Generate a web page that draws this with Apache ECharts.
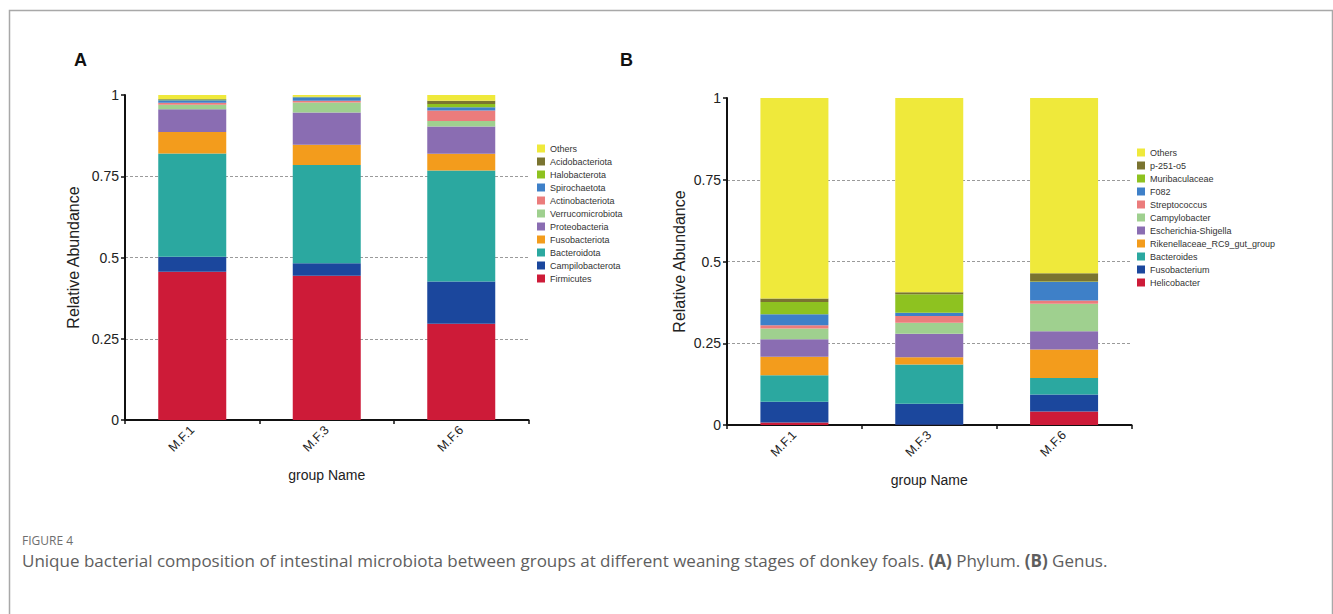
<!DOCTYPE html>
<html>
<head>
<meta charset="utf-8">
<script src="https://cdn.jsdelivr.net/npm/echarts@6/dist/echarts.min.js"></script>
<style>
  html, body { margin: 0; padding: 0; background: #fff; }
  #chart { width: 1333px; height: 614px; }
</style>
</head>
<body>
<div id="chart"></div>
<script>
// Sample groups (weaning stages)
const groups = ['M.F.1', 'M.F.3', 'M.F.6'];

// Phylum level, listed from the bottom of each stack to the top
const phylumNames = ['Firmicutes', 'Campilobacterota', 'Bacteroidota', 'Fusobacteriota', 'Proteobacteria',
  'Verrucomicrobiota', 'Actinobacteriota', 'Spirochaetota', 'Halobacterota', 'Acidobacteriota', 'Others'];
const phylumMF1 = [0.456, 0.046, 0.318, 0.066, 0.070, 0.014, 0.006, 0.008, 0.002, 0.002, 0.012];
const phylumMF3 = [0.444, 0.038, 0.303, 0.062, 0.099, 0.031, 0.005, 0.011, 0.001, 0.001, 0.005];
const phylumMF6 = [0.296, 0.130, 0.342, 0.051, 0.084, 0.017, 0.032, 0.010, 0.010, 0.010, 0.018];

// Genus level, listed from the bottom of each stack to the top
const genusNames = ['Helicobacter', 'Fusobacterium', 'Bacteroides', 'Rikenellaceae_RC9_gut_group',
  'Escherichia-Shigella', 'Campylobacter', 'Streptococcus', 'F082', 'Muribaculaceae', 'p-251-o5', 'Others'];
const genusMF1 = [0.008, 0.063, 0.081, 0.057, 0.053, 0.033, 0.010, 0.034, 0.037, 0.011, 0.613];
const genusMF3 = [0.001, 0.064, 0.120, 0.022, 0.072, 0.034, 0.020, 0.010, 0.057, 0.006, 0.594];
const genusMF6 = [0.041, 0.052, 0.051, 0.087, 0.056, 0.084, 0.010, 0.056, 0.002, 0.025, 0.536];

// Y axis ticks
const yMin = 0, yMax = 1, yStep = 0.25;

// Shared palette, bottom to top
const palette = ['#CD1B38', '#1B479D', '#2BA8A0', '#F39C1C', '#8A6DB2', '#9FD08F',
  '#EB7C7C', '#3E80C8', '#8EC220', '#7A7430', '#EFE93B'];

const FONT = 'Liberation Sans, Arial, sans-serif';
const CAPTION_FONT = '"Open Sans", "Noto Sans", sans-serif';
const AXIS_COLOR = '#111';

function buildSeries(names, cols, idx) {
  return names.map((name, i) => ({
    type: 'bar',
    name: name,
    stack: 'stack' + idx,
    xAxisIndex: idx,
    yAxisIndex: idx,
    barWidth: 68,
    itemStyle: { color: palette[i] },
    emphasis: { disabled: true },
    data: cols.map(c => c[i])
  }));
}

function makeXAxis(gi) {
  return {
    type: 'category',
    gridIndex: gi,
    data: groups,
    name: 'group Name',
    nameLocation: 'middle',
    nameGap: 48,
    nameTextStyle: { fontFamily: FONT, fontSize: 14, color: '#222' },
    axisLine: { lineStyle: { color: AXIS_COLOR, width: 2 } },
    axisTick: { show: true, length: 4, alignWithLabel: false, lineStyle: { color: AXIS_COLOR, width: 1.5 } },
    axisLabel: { rotate: 45, margin: 8, fontFamily: FONT, fontSize: 12.5, color: '#222' },
    splitLine: { show: false }
  };
}

function makeYAxis(gi, gap) {
  return {
    type: 'value',
    gridIndex: gi,
    min: yMin,
    max: yMax,
    interval: yStep,
    name: 'Relative Abundance',
    nameLocation: 'middle',
    nameGap: gap,
    nameTextStyle: { fontFamily: FONT, fontSize: 16, color: '#222' },
    axisLine: { show: true, lineStyle: { color: AXIS_COLOR, width: 2 } },
    axisTick: { show: true, length: 4, lineStyle: { color: AXIS_COLOR, width: 1.5 } },
    axisLabel: { margin: 6, fontFamily: FONT, fontSize: 14, color: '#222' },
    splitLine: {
      show: true,
      showMinLine: false,
      showMaxLine: false,
      lineStyle: { color: '#9a9a9a', type: [3, 2], width: 1 }
    }
  };
}

function makeLegend(names, left, top) {
  return {
    orient: 'vertical',
    left: left,
    top: top,
    padding: 0,
    itemGap: 0,
    itemWidth: 8,
    itemHeight: 8,
    icon: 'rect',
    selectedMode: false,
    data: names.slice().reverse(),
    textStyle: { fontFamily: FONT, fontSize: 9, color: '#333', lineHeight: 13 }
  };
}

const chart = echarts.init(document.getElementById('chart'), null, { renderer: 'svg' });

chart.setOption({
  backgroundColor: '#fff',
  animation: false,
  title: [
    { text: 'A', left: 74, top: 51, padding: 0, textStyle: { fontFamily: FONT, fontSize: 18, fontWeight: 'bold', color: '#111' } },
    { text: 'B', left: 620, top: 51, padding: 0, textStyle: { fontFamily: FONT, fontSize: 18, fontWeight: 'bold', color: '#111' } }
  ],
  legend: [
    makeLegend(phylumNames, 537, 142),
    makeLegend(genusNames, 1137, 146)
  ],
  grid: [
    { left: 125, top: 95, width: 403.5, height: 325 },
    { left: 727, top: 98, width: 404.5, height: 327 }
  ],
  xAxis: [makeXAxis(0), makeXAxis(1)],
  yAxis: [makeYAxis(0, 44), makeYAxis(1, 40)],
  series: buildSeries(phylumNames, [phylumMF1, phylumMF3, phylumMF6], 0)
    .concat(buildSeries(genusNames, [genusMF1, genusMF3, genusMF6], 1)),
  graphic: [
    {
      type: 'polyline',
      silent: true,
      shape: { points: [[9.5, 614], [9.5, 10.5], [1332.5, 10.5], [1332.5, 614]] },
      style: { stroke: '#a8a8a8', lineWidth: 1.5, fill: null }
    },
    {
      type: 'text',
      left: 22,
      top: 534,
      style: { text: 'FIGURE 4', fill: '#6e6e6e', font: '12px ' + CAPTION_FONT }
    },
    {
      type: 'text',
      left: 22,
      top: 552,
      style: {
        text: '{n|Unique bacterial composition of intestinal microbiota between groups at different weaning stages of donkey foals. }{b|(A)}{n| Phylum. }{b|(B)}{n| Genus.}',
        rich: {
          n: { fill: '#5e5e5e', font: '17px ' + CAPTION_FONT },
          b: { fill: '#5e5e5e', font: 'bold 17px ' + CAPTION_FONT }
        }
      }
    }
  ]
});
</script>
</body>
</html>
